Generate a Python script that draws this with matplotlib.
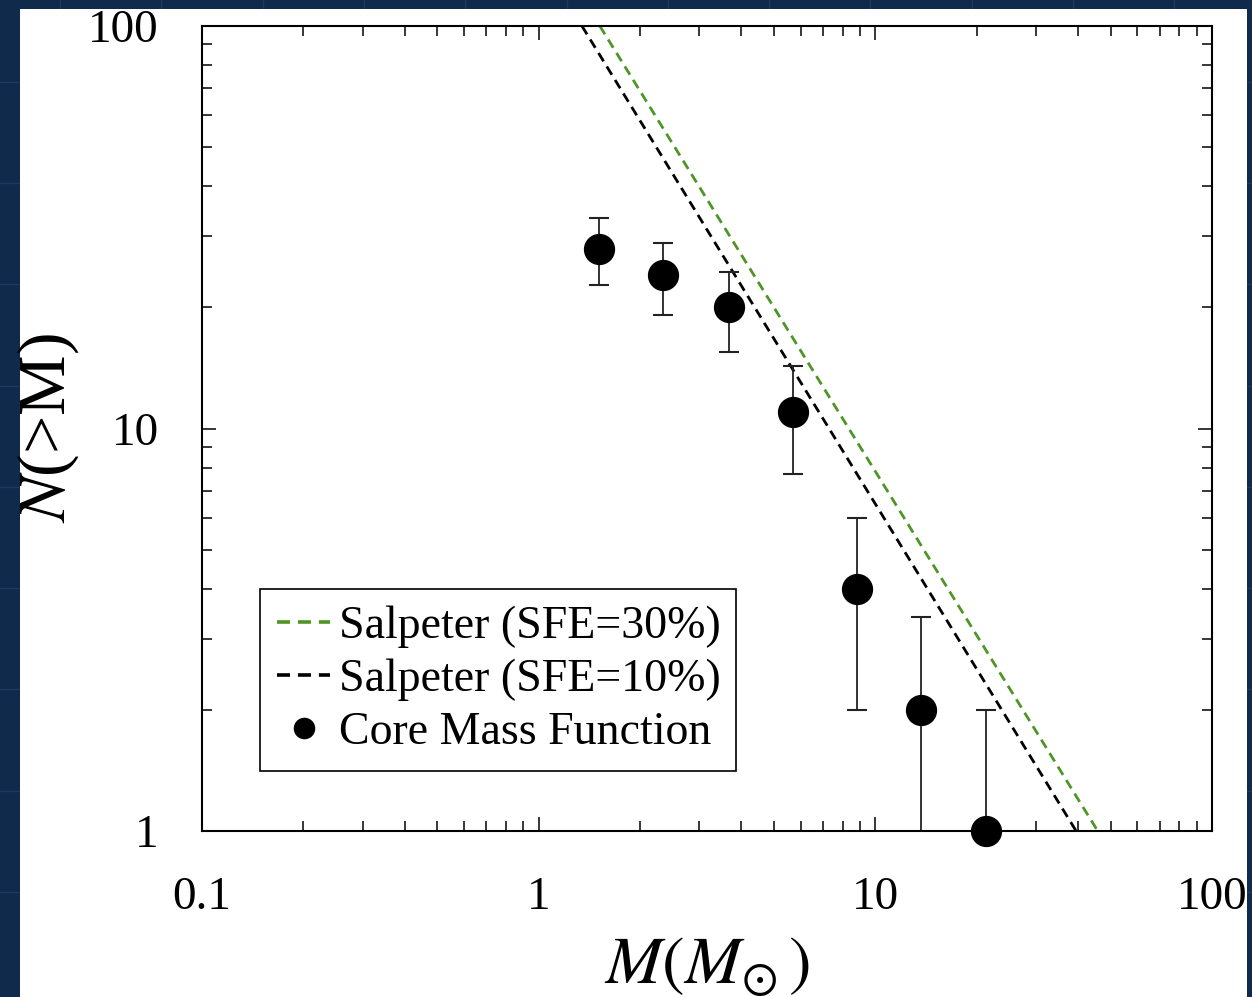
import numpy as np
import matplotlib
matplotlib.use("Agg")
import matplotlib.pyplot as plt
from matplotlib.patches import Rectangle
from matplotlib.lines import Line2D

# Core mass function (cumulative counts N(>M))
mass = [1.51, 2.34, 3.67, 5.69, 8.81, 13.7, 21.3]
n_above = [28, 24, 20, 11, 4, 2, 1]
n_err = [5.3, 4.9, 4.5, 3.3, 2.0, 1.4, 1.0]

# Salpeter lines: where they cross N=100 and N=1
salp30_m = [1.52, 45.8]
salp30_n = [100, 1]
salp10_m = [1.345, 39.5]
salp10_n = [100, 1]

xticks = [0.1, 1, 10, 100]
xticklabels = ['0.1', '1', '10', '100']
yticks = [1, 10, 100]
yticklabels = ['1', '10', '100']

plt.rcParams['font.family'] = ['Liberation Serif', 'DejaVu Serif']
plt.rcParams['mathtext.fontset'] = 'stix'

navy = '#0f2a4a'
green = '#4f9526'

fig = plt.figure(figsize=(12.52, 9.97), dpi=100, facecolor=navy)

# faint slide grid in the dark margin
for gx in np.arange(60, 1252, 101.3):
    fig.add_artist(Line2D([gx / 1252, gx / 1252], [0, 1], color='#1c3a60', lw=1, zorder=-3))
for gy in np.arange(892, 0, -101.3):
    fig.add_artist(Line2D([0, 1], [1 - gy / 997, 1 - gy / 997], color='#1c3a60', lw=1, zorder=-3))
fig.add_artist(Rectangle((0.016, 0), 0.980, 0.991, transform=fig.transFigure,
                         facecolor='white', edgecolor='none', zorder=-2))

ax = fig.add_axes([0.1613, 0.1665, 0.8067, 0.8074])
ax.set_xscale('log')
ax.set_yscale('log')

dash = (0, (3.5, 2.2))
ax.plot(salp30_m, salp30_n, color=green, lw=2.0, ls=dash)
ax.plot(salp10_m, salp10_n, color='black', lw=2.0, ls=dash)
ax.errorbar(mass, n_above, yerr=n_err, fmt='none', ecolor='#222222',
            elinewidth=1.3, capsize=7, capthick=1.5)
ax.plot(mass, n_above, 'o', color='black', ms=21.5, clip_on=False, zorder=5)

ax.set_xlim(0.1, 100)
ax.set_ylim(1, 100)
ax.set_xticks(xticks)
ax.set_xticklabels(xticklabels)
ax.set_yticks(yticks)
ax.set_yticklabels(yticklabels)

ax.tick_params(which='both', direction='in', top=True, right=True, width=1.1)
ax.tick_params(which='major', length=10, labelsize=34)
ax.tick_params(which='minor', length=7)
ax.tick_params(axis='x', which='major', pad=33)
ax.tick_params(axis='y', which='major', pad=31)
for s in ax.spines.values():
    s.set_linewidth(1.5)

ax.set_xlabel(r'$M(M_{\odot}\,)$', fontsize=49)
ax.xaxis.set_label_coords(0.5, -0.13)
ax.set_ylabel(r'$N$(>M)', fontsize=49)
ax.yaxis.set_label_coords(-0.12, 0.5)

# legend keys: bolder, longer dashes than the plotted lines, like the original
leg_dash = (0, (3.6, 2.2))
handles = [
    Line2D([0], [0], color=green, lw=2.6, ls=leg_dash, label='Salpeter (SFE=30%)'),
    Line2D([0], [0], color='black', lw=2.6, ls=leg_dash, label='Salpeter (SFE=10%)'),
    Line2D([0], [0], marker='o', ls='none', color='black', ms=14.5, label='Core Mass Function'),
]
leg = ax.legend(handles=handles, loc='lower left',
                bbox_to_anchor=(0.0574, 0.0745, 0.4713, 0.22),
                mode='expand', borderaxespad=0,
                fontsize=33, frameon=True, fancybox=False, framealpha=1,
                edgecolor='black', handlelength=1.15, handletextpad=0.2,
                borderpad=0.38, labelspacing=0.22, numpoints=1)
leg.get_frame().set_linewidth(1.2)

fig.savefig('out.png', dpi=100, facecolor=navy)
